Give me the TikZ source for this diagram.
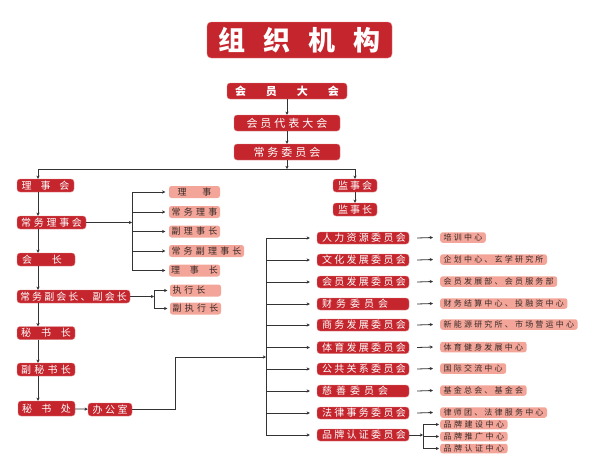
\documentclass[tikz,border=0pt]{standalone}
\usepackage{fontspec}
\setmainfont{Noto Sans CJK SC}
\usetikzlibrary{arrows.meta}
\definecolor{dred}{HTML}{C5252D}
\definecolor{lred}{HTML}{F2A598}
\definecolor{lnc}{HTML}{333333}
\definecolor{dtxt}{HTML}{3A2A28}
\makeatletter
\newcommand\lsp[2]{\mbox{\def\lsp@sep{}\@tfor\lsp@c:=#2\do{\lsp@sep\lsp@c\def\lsp@sep{\hspace{#1}}}}}
\makeatother
\tikzset{
  rbox/.style={fill=dred, draw=dred!55!white, line width=0.4pt, text=white, rounded corners=3pt, inner sep=0pt, font=\fontsize{10}{10}\selectfont},
  lbox/.style={fill=lred, text=dtxt, rounded corners=2.5pt, inner sep=0pt, font=\fontsize{9}{9}\selectfont},
  dbox/.style={fill=lred, text=dtxt, rounded corners=2.5pt, inner sep=0pt, anchor=west, minimum height=10.5pt, font=\fontsize{8}{8}\selectfont},
  lal/.style={text width=#1, align=left},
  conn/.style={draw=lnc, line width=0.8pt},
  arr/.style={conn, -{Stealth[length=3.2pt,width=3.2pt]}},
}
\begin{document}
\begin{tikzpicture}[x=1pt,y=-1pt]
\useasboundingbox (0,0) rectangle (595,466);
% title
\node[rbox, rounded corners=4pt, minimum width=185pt, minimum height=36pt, font=\fontsize{27}{27}\selectfont\bfseries] (title) at (299.5,40) {\lsp{18pt}{组织机构}};
% top chain
\node[rbox, minimum width=120pt, minimum height=16pt, font=\fontsize{11}{11}\selectfont\bfseries] (hydh) at (287,91) {\lsp{20pt}{会员大会}};
\node[rbox, minimum width=106pt, minimum height=16pt, font=\fontsize{11}{11}\selectfont] (dbdh) at (287,123) {\lsp{3pt}{会员代表大会}};
\node[rbox, minimum width=106pt, minimum height=16pt, font=\fontsize{11}{11}\selectfont] (cwwy) at (287,152) {\lsp{3pt}{常务委员会}};
\draw[arr] (hydh) -- (dbdh);
\draw[arr] (dbdh) -- (cwwy);
\coordinate (j0) at (287,169);
\coordinate (jl) at (38,169);
\coordinate (jr) at (355,169);
\draw[arr] (cwwy) -- (j0);
\draw[conn] (jl) -- (jr);
% left column
\node[rbox, minimum width=57pt, minimum height=13pt] (lsh) at (45.5,185.5) {\lsp{9pt}{理事会}};
\node[rbox, minimum width=69pt, minimum height=13pt] (cwls) at (51.5,222.5) {\lsp{2.75pt}{常务理事会}};
\node[rbox, lal=58pt, minimum height=13pt] (hz) at (46,259.5) {\hspace*{5pt}\lsp{20pt}{会长}};
\node[rbox, minimum width=113pt, minimum height=13pt] (cfhz) at (73.5,296.5) {\lsp{2.1pt}{常务副会长、副会长}};
\node[rbox, minimum width=58pt, minimum height=13pt] (msz) at (46,333) {\lsp{10pt}{秘书长}};
\node[rbox, minimum width=58pt, minimum height=13pt] (fmsz) at (46,369.5) {\lsp{3.3pt}{副秘书长}};
\node[rbox, minimum width=57pt, minimum height=15pt] (msc) at (46.5,408.5) {\lsp{9.5pt}{秘书处}};
\node[rbox, minimum width=44pt, minimum height=13pt] (bgs) at (110,409.5) {\lsp{2.5pt}{办公室}};
\draw[arr] (jl) -- (jl |- lsh.north);
\draw[arr] (lsh.south -| jl) -- (cwls.north -| jl);
\draw[arr] (cwls.south -| jl) -- (hz.north -| jl);
\draw[arr] (hz.south -| jl) -- (cfhz.north -| jl);
\draw[arr] (cfhz.south -| jl) -- (msz.north -| jl);
\draw[arr] (msz.south -| jl) -- (fmsz.north -| jl);
\draw[arr] (fmsz.south -| jl) -- (msc.north -| jl);
\draw[arr] (msc) -- (bgs);
% supervisory
\node[rbox, minimum width=44pt, minimum height=13pt] (jsh) at (355,185.5) {\lsp{2pt}{监事会}};
\node[rbox, minimum width=44pt, minimum height=13pt] (jsz) at (355,209.5) {\lsp{2pt}{监事长}};
\draw[arr] (jr) -- (jsh);
\draw[arr] (jsh) -- (jsz);
% council members
\node[lbox, minimum width=51pt, minimum height=12pt] (ls1) at (194.5,192) {\lsp{16pt}{理事}};
\node[lbox, minimum width=51pt, minimum height=12pt] (ls2) at (194.5,212) {\lsp{3.2pt}{常务理事}};
\node[lbox, minimum width=51pt, minimum height=12pt] (ls3) at (194.5,231.5) {\lsp{3.2pt}{副理事长}};
\node[lbox, minimum width=75pt, minimum height=12pt] (ls4) at (206.5,251) {\lsp{3.2pt}{常务副理事长}};
\node[lbox, minimum width=51pt, minimum height=12pt] (ls5) at (194.5,270.5) {\lsp{10pt}{理事长}};
\coordinate (bx1) at (132,222.5);
\draw[arr] (cwls.east) -- (cwls.east -| bx1);
\draw[conn] (bx1 |- ls1.west) -- (bx1 |- ls5.west);
\foreach \n in {ls1,ls2,ls3,ls4,ls5}{
  \draw[arr] (bx1 |- \n.west) -- ([xshift=-3.5pt]\n.west);
}
\node[lbox, lal=51pt, minimum height=12pt] (zx1) at (195.5,290.5) {\hspace*{2.5pt}\lsp{3pt}{执行长}};
\node[lbox, minimum width=51pt, minimum height=12pt] (zx2) at (195.5,308.5) {\lsp{3.2pt}{副执行长}};
\coordinate (bx2) at (154,296.5);
\draw[arr] (cfhz.east) -- (cfhz.east -| bx2);
\draw[conn] (bx2 |- zx1.west) -- (bx2 |- zx2.west);
\draw[arr] (bx2 |- zx1.west) -- ([xshift=-2.5pt]zx1.west);
\draw[arr] (bx2 |- zx2.west) -- ([xshift=-2.5pt]zx2.west);
% committees
\coordinate (bt) at (266,238);
\coordinate (bb) at (266,435);
\coordinate (k1) at (175,357);
\draw[conn] (bt) -- (bb);
\draw[arr] (bgs.east) -| (k1) -- (k1 -| bt);
\node[rbox, lal=92pt, minimum height=12pt] (c1) at (363,238) {\hspace*{5pt}\lsp{2.3pt}{人力资源委员会}};
\node[rbox, lal=92pt, minimum height=12pt] (c2) at (363,260) {\hspace*{5pt}\lsp{2.3pt}{文化发展委员会}};
\node[rbox, lal=92pt, minimum height=12pt] (c3) at (363,282) {\hspace*{5pt}\lsp{2.3pt}{会员发展委员会}};
\node[rbox, lal=92pt, minimum height=12pt] (c4) at (363,304) {\hspace*{5pt}\lsp{4pt}{财务委员会}};
\node[rbox, lal=92pt, minimum height=12pt] (c5) at (363,325) {\hspace*{5pt}\lsp{2.3pt}{商务发展委员会}};
\node[rbox, lal=92pt, minimum height=12pt] (c6) at (363,347.5) {\hspace*{5pt}\lsp{2.3pt}{体育发展委员会}};
\node[rbox, lal=92pt, minimum height=12pt] (c7) at (363,369) {\hspace*{5pt}\lsp{2.3pt}{公共关系委员会}};
\node[rbox, lal=92pt, minimum height=12pt] (c8) at (363,391) {\hspace*{5pt}\lsp{4pt}{慈善委员会}};
\node[rbox, lal=92pt, minimum height=12pt] (c9) at (363,413) {\hspace*{5pt}\lsp{2.3pt}{法律事务委员会}};
\node[rbox, lal=92pt, minimum height=12pt] (c10) at (363,435) {\hspace*{5pt}\lsp{2.3pt}{品牌认证委员会}};
\foreach \n in {c1,c2,c3,c4,c5,c6,c7,c8,c9,c10}{
  \draw[arr] (\n.west -| bt) -- ([xshift=-7pt]\n.west);
}
% details
\node[dbox] (d1) at (440,237.5) {\hspace*{3.5pt}\lsp{2.2pt}{培训中心}\hspace*{3.5pt}};
\node[dbox] (d2) at (440,259.5) {\hspace*{3.5pt}\lsp{2.2pt}{企划中心、玄学研究所}\hspace*{3.5pt}};
\node[dbox] (d3) at (440,281.5) {\hspace*{3.5pt}\lsp{2.2pt}{会员发展部、会员服务部}\hspace*{3.5pt}};
\node[dbox] (d4) at (440,303.5) {\hspace*{3.5pt}\lsp{2.2pt}{财务结算中心、投融资中心}\hspace*{3.5pt}};
\node[dbox] (d5) at (440,324.5) {\hspace*{3.5pt}\lsp{2.2pt}{新能源研究所、市场营运中心}\hspace*{3.5pt}};
\node[dbox] (d6) at (440,347) {\hspace*{3.5pt}\lsp{2.2pt}{体育健身发展中心}\hspace*{3.5pt}};
\node[dbox] (d7) at (440,368.5) {\hspace*{3.5pt}\lsp{2.2pt}{国际交流中心}\hspace*{3.5pt}};
\node[dbox] (d8) at (440,390.5) {\hspace*{3.5pt}\lsp{2.2pt}{基金总会、基金会}\hspace*{3.5pt}};
\node[dbox] (d9) at (440,412.5) {\hspace*{3.5pt}\lsp{2.2pt}{律师团、法律服务中心}\hspace*{3.5pt}};
\foreach \i in {1,...,9}{
  \draw[arr] ([xshift=8pt]c\i.east) -- ([xshift=-7pt]d\i.west);
}
\node[dbox, minimum height=9.5pt] (s1) at (440,424.5) {\hspace*{3.5pt}\lsp{2.5pt}{品牌建设中心}\hspace*{3.5pt}};
\node[dbox, minimum height=9.5pt] (s2) at (440,436.5) {\hspace*{3.5pt}\lsp{2.5pt}{品牌推广中心}\hspace*{3.5pt}};
\node[dbox, minimum height=9.5pt] (s3) at (440,448.5) {\hspace*{3.5pt}\lsp{2.5pt}{品牌认证中心}\hspace*{3.5pt}};
\coordinate (bx3) at (423,435);
\draw[arr] (c10.east) -- (c10.east -| bx3);
\draw[conn] (bx3 |- s1.west) -- (bx3 |- s3.west);
\foreach \n in {s1,s2,s3}{
  \draw[arr] (bx3 |- \n.west) -- ([xshift=-1pt]\n.west);
}
\end{tikzpicture}
\end{document}
